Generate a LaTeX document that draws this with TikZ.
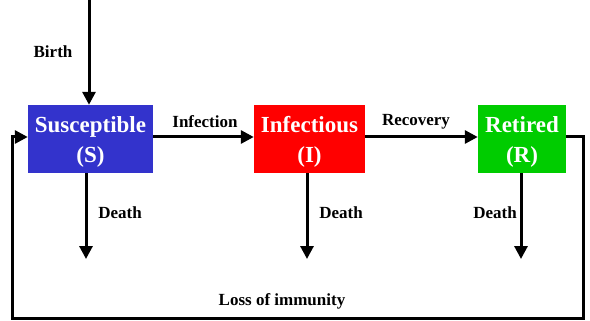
\documentclass[tikz,border=0pt]{standalone}
\usepackage{fontspec}
\setmainfont{Liberation Serif}
\usetikzlibrary{arrows.meta}

\definecolor{sblue}{RGB}{51,51,204}
\definecolor{ired}{RGB}{255,0,0}
\definecolor{rgreen}{RGB}{0,204,0}

\begin{document}
\begin{tikzpicture}[x=1pt,y=-1pt,
  box/.style={minimum height=68pt,inner sep=0pt,text=white,align=center,
    font=\bfseries\fontsize{23}{30}\selectfont},
  flow/.style={line width=3pt,-{Triangle[length=13pt,width=13pt]}},
  lbl/.style={font=\bfseries\fontsize{17}{19}\selectfont}]
  \useasboundingbox (0,0) rectangle (590,321);
  % compartments
  \node[box,fill=sblue,minimum width=125pt] (S) at (90.5,139) {};
  \node[box,fill=ired,minimum width=111pt] (I) at (309.5,139) {};
  \node[box,fill=rgreen,minimum width=88pt] (R) at (522,139) {};
  \node[box] (tS) at ([yshift=-3pt]S.center) {Susceptible\\(S)};
  \node[box] (tI) at ([yshift=-3pt]I.center) {Infectious\\(I)};
  \node[box] (tR) at ([yshift=-3pt]R.center) {Retired\\(R)};
  % free ends
  \coordinate (birth) at (89,0);
  \coordinate (sdeath) at (86,259);
  \coordinate (ideath) at (307,259);
  \coordinate (rdeath) at (521,259);
  \coordinate (loopR) at (583,318);
  \coordinate (loopL) at (12,318);
  % flows
  \draw[flow] (birth) -- (birth |- S.north);
  \draw[flow] ([yshift=2pt]S.east) -- ([yshift=2pt]I.west);
  \draw[flow] ([yshift=2pt]I.east) -- ([yshift=2pt]R.west);
  \draw[flow] (sdeath |- S.south) -- (sdeath);
  \draw[flow] (ideath |- I.south) -- (ideath);
  \draw[flow] (rdeath |- R.south) -- (rdeath);
  \draw[flow] ([yshift=2pt]R.east) -| (loopR) -- (loopL) |- ([yshift=2pt]S.west);
  % labels
  \node[lbl] (lbirth) at (53,52) {Birth};
  \node[lbl] (linf) at (205,122) {Infection};
  \node[lbl] (lrec) at (416,122) {Recovery};
  \node[lbl] (lsd) at (120,213) {Death};
  \node[lbl] (lid) at (341,213) {Death};
  \node[lbl] (lrd) at (495,213) {Death};
  \node[lbl] (lloss) at (282,301) {Loss of immunity};
\end{tikzpicture}
\end{document}
